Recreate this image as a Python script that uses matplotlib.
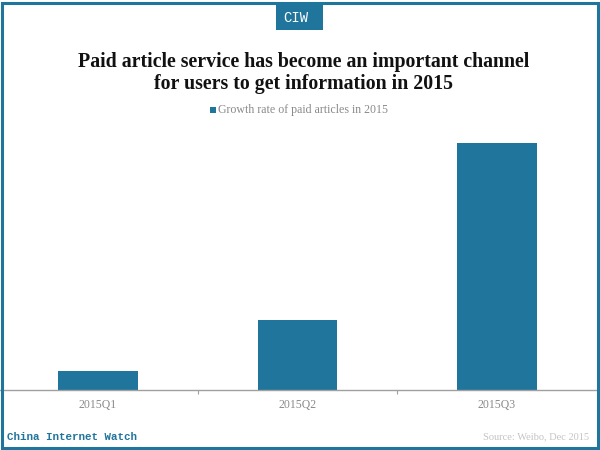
import matplotlib
matplotlib.use("Agg")
import matplotlib.pyplot as plt
from matplotlib.patches import Rectangle

categories = ["2015Q1", "2015Q2", "2015Q3"]
growth = [19, 70, 247]  # no value axis in the source, read as bar height

BLUE = "#20759c"
GREY = "#8a8a8a"
W, H = 600, 450


def fx(px):
    return px / W


def fy(py):
    return 1 - py / H


fig = plt.figure(figsize=(6, 4.5), dpi=100, facecolor="white")
plt.rcParams["font.family"] = "Liberation Serif"

# axes: baseline at y=390, 1 unit = 1 px
ax = fig.add_axes([fx(-1.75), fy(390), 598.5 / W, 290 / H])
ax.bar(range(3), growth, width=0.4, color=BLUE, label="Growth rate of paid articles in 2015")
ax.set_xlim(-0.5, 2.5)
ax.set_ylim(0, 290)
for s in ["top", "left", "right"]:
    ax.spines[s].set_visible(False)
ax.spines["bottom"].set_color("#a0a0a0")
ax.spines["bottom"].set_linewidth(1.0)
ax.set_yticks([])
ax.set_xticks(range(3))
ax.set_xticklabels(categories, fontsize=8.5, color=GREY)
ax.tick_params(axis="x", which="major", length=0, pad=6.5)
ax.set_xticks([0.5, 1.5], minor=True)
ax.tick_params(axis="x", which="minor", length=3, color="#a0a0a0", width=0.8)

# outer frame and CIW tab
fig.add_artist(Rectangle((fx(1.5), fy(448)), 596 / W, 445.5 / H, transform=fig.transFigure,
                         fill=False, edgecolor=BLUE, linewidth=2.2))
fig.add_artist(Rectangle((fx(276), fy(30)), 47 / W, 27 / H, transform=fig.transFigure,
                         facecolor=BLUE, edgecolor="none"))
fig.text(fx(296), fy(17.5), "CIW", color="white", fontsize=10, ha="center", va="center",
         family="Liberation Mono")

fig.text(fx(303.5), fy(62), "Paid article service has become an important channel",
         fontsize=14.35, fontweight="bold", color="#111111", ha="center", va="center")
fig.text(fx(303.5), fy(84), "for users to get information in 2015",
         fontsize=14.35, fontweight="bold", color="#111111", ha="center", va="center")

# legend
fig.add_artist(Rectangle((fx(209.5), fy(113)), 6 / W, 6 / H, transform=fig.transFigure,
                         facecolor=BLUE, edgecolor="none"))
fig.text(fx(217.5), fy(110), "Growth rate of paid articles in 2015", fontsize=8.55,
         color=GREY, ha="left", va="center")

fig.text(fx(7), fy(437), "China Internet Watch", fontsize=7.8, color=BLUE, fontweight="bold",
         family="Liberation Mono", ha="left", va="center")
fig.text(fx(589), fy(437), "Source: Weibo, Dec 2015", fontsize=7.5, color="#c4c4c4",
         ha="right", va="center")

fig.savefig("out.png", dpi=100)
